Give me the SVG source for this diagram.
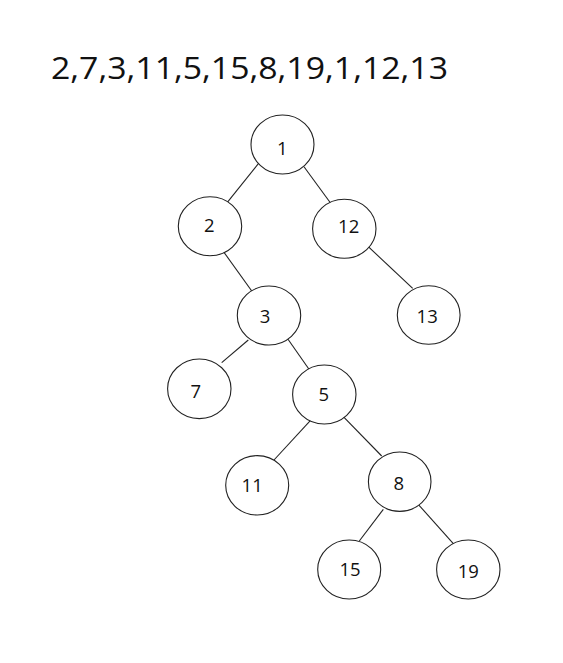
<svg xmlns="http://www.w3.org/2000/svg" width="563" height="663" viewBox="0 0 563 663">
<style>
.n ellipse{fill:#fff;stroke:#222;stroke-width:1.1}
.n text{font-family:"Open Sans","Liberation Sans",Arial,sans-serif;font-size:18.5px;fill:#111;text-anchor:middle}
#edges line{stroke:#222;stroke-width:1.1}
.title{font-family:"Open Sans","Liberation Sans",Arial,sans-serif;font-size:31px;fill:#111}
</style>
<rect width="563" height="663" fill="#fff"/>
<text class="title" x="51" y="79.3" textLength="397" lengthAdjust="spacingAndGlyphs">2,7,3,11,5,15,8,19,1,12,13</text>
<g id="edges">
<line x1="260" y1="161.7" x2="225.7" y2="204.3"/>
<line x1="304" y1="166.7" x2="330.7" y2="203.3"/>
<line x1="222.3" y1="250" x2="252.3" y2="291.7"/>
<line x1="368.3" y1="246.7" x2="412.7" y2="288.3"/>
<line x1="248.3" y1="340" x2="221.7" y2="362.7"/>
<line x1="288" y1="339.3" x2="309" y2="369.3"/>
<line x1="313.3" y1="417.3" x2="274" y2="460"/>
<line x1="343.3" y1="416.7" x2="381.7" y2="456"/>
<line x1="383.3" y1="509.3" x2="359.3" y2="541"/>
<line x1="417.3" y1="503.3" x2="456" y2="546.7"/>
</g>
<g id="node1" class="n"><ellipse cx="282.5" cy="144.5" rx="31.5" ry="29.5"/><text x="282.3" y="155">1</text></g>
<g id="node2" class="n"><ellipse cx="210" cy="226.2" rx="31.7" ry="29.5"/><text x="209.2" y="232.3">2</text></g>
<g id="node12" class="n"><ellipse cx="344.3" cy="228.8" rx="31.7" ry="29.5"/><text x="348.7" y="232.7">12</text></g>
<g id="node3" class="n"><ellipse cx="269" cy="315.5" rx="31.7" ry="29.5"/><text x="265" y="323.3">3</text></g>
<g id="node13" class="n"><ellipse cx="428.7" cy="315" rx="31.4" ry="29.3"/><text x="427.2" y="323.3">13</text></g>
<g id="node7" class="n"><ellipse cx="199.3" cy="388.8" rx="31.7" ry="29.8"/><text x="195.7" y="398.3">7</text></g>
<g id="node5" class="n"><ellipse cx="324.3" cy="394.5" rx="31.7" ry="29.5"/><text x="323.7" y="400.7">5</text></g>
<g id="node11" class="n"><ellipse cx="257.2" cy="485.3" rx="31.5" ry="29.7"/><text x="252.2" y="491.7">11</text></g>
<g id="node8" class="n"><ellipse cx="399.7" cy="481.7" rx="31.3" ry="29.7"/><text x="398.7" y="490">8</text></g>
<g id="node15" class="n"><ellipse cx="349.2" cy="569.5" rx="31.5" ry="29.5"/><text x="350" y="575.7">15</text></g>
<g id="node19" class="n"><ellipse cx="468.3" cy="569.5" rx="31.7" ry="29.5"/><text x="468.3" y="578.3">19</text></g>
</svg>
